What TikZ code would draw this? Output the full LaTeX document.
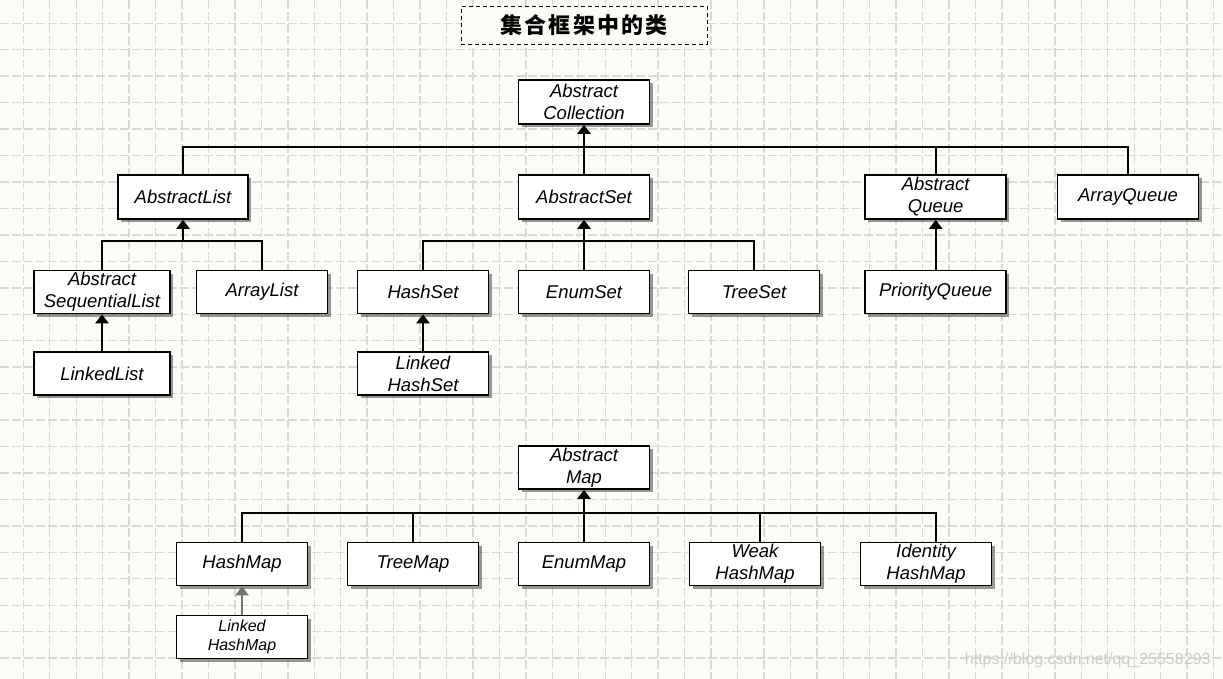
\documentclass[tikz,border=0pt]{standalone}
\usepackage{fontspec}
\setmainfont{Liberation Sans}
\newfontfamily\cjk[LetterSpace=10]{Noto Sans CJK SC}
\usepackage{xcolor}
\usetikzlibrary{arrows.meta,shadows}
\definecolor{paper}{HTML}{FCFBF6}
\definecolor{gridgray}{HTML}{DAD9D4}

\begin{document}
\begin{tikzpicture}[x=1pt, y=-1pt,
  cls/.style={draw=black, line width=1.6pt, fill=white, minimum width=131pt, minimum height=44pt, inner sep=1pt, align=center, font=\fontsize{18.5}{22}\selectfont\itshape, drop shadow={shadow xshift=3pt, shadow yshift=-3pt, fill=black, opacity=0.4}},
  link/.style={line width=2.2pt},
  up/.style={link, -{Triangle[width=13pt,length=9pt]}},
]
\useasboundingbox (0,0) rectangle (1223,679);
\fill[paper] (0,0) rectangle (1223,679);
\foreach \i in {0,...,45} {
  \pgfmathsetmacro{\gx}{23.3 + 26.45*\i}
  \draw[gridgray, line width=1.4pt, dash pattern=on 9pt off 3pt] (\gx,0) -- (\gx,679);
}
\foreach \j in {0,...,24} {
  \pgfmathsetmacro{\gy}{23.3 + 26.45*\j}
  \draw[gridgray, line width=1.4pt, dash pattern=on 9pt off 3pt] (0,\gy) -- (1223,\gy);
}
\node[draw=black, fill=paper, line width=1pt, dash pattern=on 4pt off 3pt, minimum width=246pt, minimum height=37.5pt, font=\fontsize{22}{26}\selectfont] (title) at (584,25.3) {\cjk\bfseries 集合框架中的类};

\node[cls] (acoll) at (584,102) {Abstract\\Collection};
\node[cls, minimum width=130pt] (alist) at (183,197) {AbstractList};
\node[cls] (aset) at (584,197) {AbstractSet};
\node[cls, minimum width=141pt] (aqueue) at (935.7,197) {Abstract\\Queue};
\node[cls, minimum width=141pt] (arrq) at (1128,197) {ArrayQueue};
\node[cls, minimum width=136pt, minimum height=43pt] (aseq) at (102,292) {Abstract\\SequentialList};
\node[cls, minimum height=43pt] (arrlist) at (262,292) {ArrayList};
\node[cls, minimum height=43pt] (hset) at (423,292) {HashSet};
\node[cls, minimum height=43pt] (eset) at (584,292) {EnumSet};
\node[cls, minimum height=43pt] (tset) at (754,292) {TreeSet};
\node[cls, minimum width=141pt, minimum height=43pt] (pqueue) at (935.7,292) {PriorityQueue};
\node[cls, minimum width=136pt, minimum height=43pt] (llist) at (102,373.5) {LinkedList};
\node[cls, minimum height=43pt] (lhset) at (423,373.5) {Linked\\HashSet};

\node[cls, minimum height=43pt] (amap) at (584,467.5) {Abstract\\Map};
\node[cls, minimum height=43pt] (hmap) at (242,564) {HashMap};
\node[cls, minimum height=43pt] (tmap) at (413,564) {TreeMap};
\node[cls, minimum height=43pt] (emap) at (584,564) {EnumMap};
\node[cls, minimum height=43pt] (whmap) at (755,564) {Weak\\HashMap};
\node[cls, minimum height=43pt] (ihmap) at (926,564) {Identity\\HashMap};
\node[cls, minimum height=43pt, font=\fontsize{16}{19}\selectfont\itshape] (lhmap) at (242,637) {Linked\\HashMap};

\coordinate (bus1) at (584,146.7);
\draw[link] (alist.north) |- (bus1) -| (arrq.north);
\draw[link] (aqueue.north) -- (aqueue.north |- bus1);
\draw[link] (aset.north) -- (bus1);
\draw[up] (bus1) -- (acoll.south);

\coordinate (bus2) at (183,241);
\draw[link] (aseq.north) |- (bus2) -| (arrlist.north);
\draw[up] (bus2) -- (alist.south);
\draw[up] (llist.north) -- (aseq.south);

\coordinate (bus3) at (584,240.7);
\draw[link] (hset.north) |- (bus3) -| (tset.north);
\draw[link] (eset.north) -- (bus3);
\draw[up] (bus3) -- (aset.south);
\draw[up] (lhset.north) -- (hset.south);
\draw[up] (pqueue.north) -- (aqueue.south);

\coordinate (bus4) at (584,512.7);
\coordinate (whtop) at ([xshift=5pt]whmap.north);
\coordinate (ihtop) at ([xshift=10pt]ihmap.north);
\draw[link] (hmap.north) |- (bus4) -| (ihtop);
\draw[link] (tmap.north) -- (tmap.north |- bus4);
\draw[link] (whtop) -- (whtop |- bus4);
\draw[link] (emap.north) -- (bus4);
\draw[up] (bus4) -- (amap.south);
\draw[up, black!55] (lhmap.north) -- (hmap.south);

\node[font=\fontsize{16}{16}\selectfont, text=black!20, anchor=east] (mark) at (1214,660) {https://blog.csdn.net/qq\_25558293};
\end{tikzpicture}
\end{document}
